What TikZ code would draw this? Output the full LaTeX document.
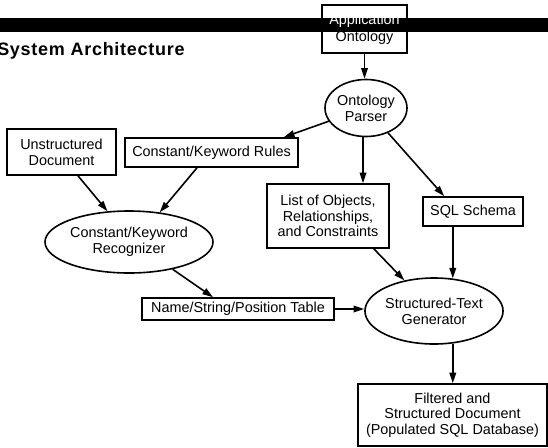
\documentclass[tikz,border=0pt]{standalone}
\usepackage{fontspec}
\setmainfont{Liberation Sans}
\usetikzlibrary{shapes.geometric,arrows.meta,calc}
\begin{document}
\begin{tikzpicture}[x=0.75pt,y=-0.75pt,
  txt/.style={font=\fontsize{10.8}{11.8}\selectfont},
  box/.style={draw,line width=1.2pt,rectangle,align=center,inner sep=0pt,txt},
  oval/.style={draw,line width=1.2pt,ellipse,align=center,inner sep=0pt,txt},
  arr/.style={line width=1.2pt,-{Triangle[length=8pt,width=5pt]}}]
\useasboundingbox (0,0) rectangle (548,447);
\fill[white] (0,0) rectangle (548,447);
\fill[black] (0,18) rectangle (548,32);
\node[anchor=base west,font=\bfseries\fontsize{13.5}{15}\selectfont\addfontfeature{LetterSpace=4},inner sep=0pt] (title) at (-3,55) {System Architecture};
\node[box,minimum width=63.75pt,minimum height=36pt,font=\fontsize{10.8}{12.6}\selectfont] (app) at (364.5,29) {\textcolor{white}{Application}\\Ontology};
\node[oval,minimum width=61.5pt,minimum height=42.75pt] (parser) at (366,108) {Ontology\\Parser};
\node[box,minimum width=81.75pt,minimum height=34.5pt] (unstr) at (61.5,152) {Unstructured\\Document};
\node[box,minimum width=129.75pt,minimum height=21.75pt] (rules) at (211.5,152.5) {Constant/Keyword Rules};
\node[oval,minimum width=126pt,minimum height=46.5pt] (recog) at (129,242) {Constant/Keyword\\Recognizer};
\node[box,minimum width=91.5pt,minimum height=48pt] (list) at (328,216) {List of Objects,\\Relationships,\\and Constraints};
\node[box,minimum width=75pt,minimum height=21.75pt] (sql) at (473,211.5) {SQL Schema};
\node[box,minimum width=144pt,minimum height=16.5pt] (name) at (238,309) {Name/String/Position Table};
\node[oval,minimum width=70.5pt,minimum height=49.5pt] (gen) at (434,311) {Structured-Text\\Generator};
\node[box,minimum width=141.75pt,minimum height=46.5pt] (filt) at (452.5,415) {Filtered and\\Structured Document\\(Populated SQL Database)};
\draw[arr] (app.south) -- (app.south |- parser.north);
\draw[arr] (parser) -- ($(rules.north east)+(-15,0)$);
\draw[arr] ($(parser.south)+(-3,0)$) -- ($(parser.south |- list.north)+(-3,0)$);
\draw[arr] (parser) -- ($(sql.north west)+(22,0)$);
\draw[arr] (sql.south -| gen.60) -- (gen.60);
\draw[arr] ($(list.south east)+(-16,0)$) -- (gen);
\draw[arr] (name.east) -- (name.east -| gen.west);
\draw[arr] (gen.-60) -- (gen.-60 |- filt.north);
\draw[arr] ($(unstr.south)+(16.5,0)$) -- (recog.125);
\draw[arr] ($(rules.south)+(-14.5,0)$) -- (recog.44);
\draw[arr] (recog.-32) -- ($(name.north)+(-25,0)$);
\end{tikzpicture}
\end{document}
